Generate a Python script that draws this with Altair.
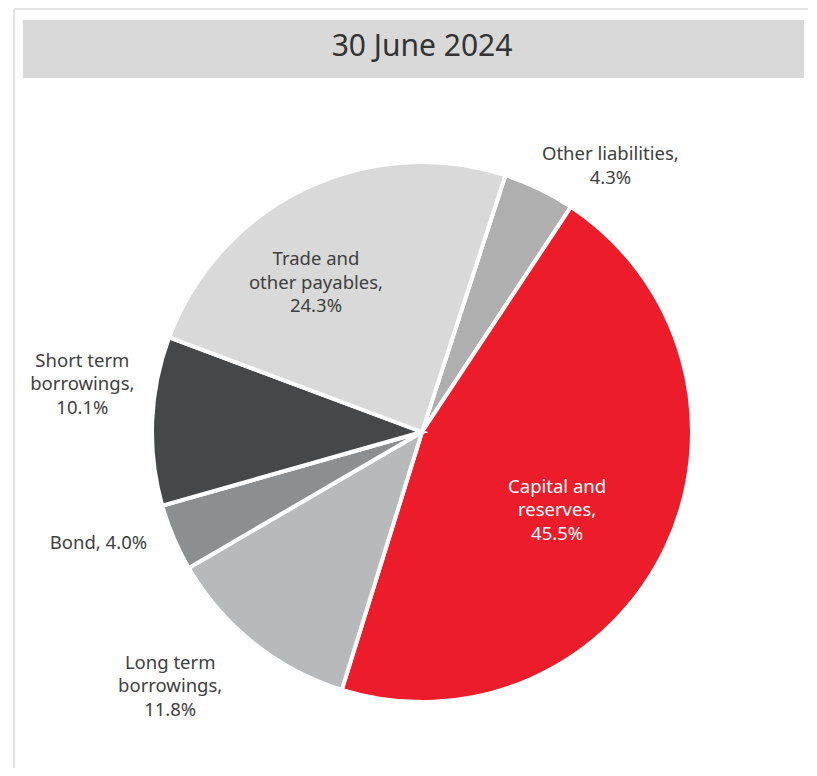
import math
import altair as alt
import pandas as pd

# ---- data ----
categories = ["Other liabilities", "Capital and reserves", "Long term borrowings",
              "Bond", "Short term borrowings", "Trade and other payables"]
values = [4.3, 45.5, 11.8, 4.0, 10.1, 24.3]
label_names = ["Other liabilities,", "Capital and\nreserves,", "Long term\nborrowings,",
               "Bond,", "Short term\nborrowings,", "Trade and\nother payables,"]
title_text = "30 June 2024"

# ---- styles ----
colors = ["#afafaf", "#ed1c2b", "#b8b9ba", "#8d8e90", "#464749", "#d9d9d9"]
text_colors = ["#404040", "#ffffff", "#404040", "#404040", "#404040", "#404040"]
label_angle_deg = [35.3, 120.0, 224.7, 251.1, 278.0, 324.6]
label_radius = [326, 156, 358, 342, 343, 183]
start_deg = 18.0
W, H = 800, 760
CX, CY = 414, 424
R = 270
FONT = "Noto Sans"
LH = 23.5

def fmt(name, v):
    sep = " " if name.startswith("Bond") else "\n"
    return f"{name}{sep}{v:.1f}%"

texts = [fmt(n, v) for n, v in zip(label_names, values)]

# first text line is anchored at the point: move anchor up so that block is centred
pos, lr = [], []
for a, r, t in zip(label_angle_deg, label_radius, texts):
    n = t.count("\n") + 1
    x = r * math.sin(math.radians(a))
    y = -r * math.cos(math.radians(a)) - (n - 1) * LH / 2
    rr = math.hypot(x, y)
    aa = math.degrees(math.atan2(x, -y)) % 360
    pos.append(((aa - start_deg) % 360) / 3.6)
    lr.append(rr)

df = pd.DataFrame({
    "category": categories,
    "value": values,
    "idx": list(range(len(values))),
    "label": texts,
    "pos": pos,
    "lr": lr,
    "tc": text_colors,
})

theta_scale = alt.Scale(domain=[0, 100],
                        range=[math.radians(start_deg), math.radians(start_deg) + 2 * math.pi])

one = alt.Data(values=[{}])

frame_left = alt.Chart(one).mark_rule(color="#e4e4e4", strokeWidth=2).encode(
    x=alt.value(6), y=alt.value(1), y2=alt.value(H))
frame_top = alt.Chart(one).mark_rule(color="#e4e4e4", strokeWidth=2).encode(
    x=alt.value(6), x2=alt.value(W), y=alt.value(1))
title_bar = alt.Chart(one).mark_rect(color="#d9d9d9").encode(
    x=alt.value(15), x2=alt.value(796), y=alt.value(12), y2=alt.value(70))
title = alt.Chart(one).mark_text(
    text=title_text, font=FONT, fontSize=30, color="#333333",
    align="center", baseline="middle").encode(x=alt.value(CX), y=alt.value(39))

pie = alt.Chart(df).mark_arc(radius=R, stroke="#ffffff", strokeWidth=4).encode(
    theta=alt.Theta("value:Q", stack=True, scale=theta_scale),
    order=alt.Order("idx:Q"),
    color=alt.Color("category:N", scale=alt.Scale(domain=categories, range=colors), legend=None),
    x=alt.value(CX), y=alt.value(CY),
)

labels = alt.Chart(df).mark_text(
    font=FONT, fontSize=18.5, lineBreak="\n", lineHeight=LH,
    align="center", baseline="middle").encode(
    theta=alt.Theta("pos:Q", stack=None, scale=theta_scale),
    radius=alt.Radius("lr:Q", scale=None),
    text="label:N",
    color=alt.Color("tc:N", scale=None),
    x=alt.value(CX), y=alt.value(CY),
)

chart = alt.layer(frame_left, frame_top, title_bar, title, pie, labels).resolve_scale(
    color="independent"
).properties(
    width=W, height=H, padding=0,
    autosize=alt.AutoSizeParams(type="none"),
).configure_view(stroke=None)

chart.save("out.html", embed_options={"renderer": "svg", "actions": False})
